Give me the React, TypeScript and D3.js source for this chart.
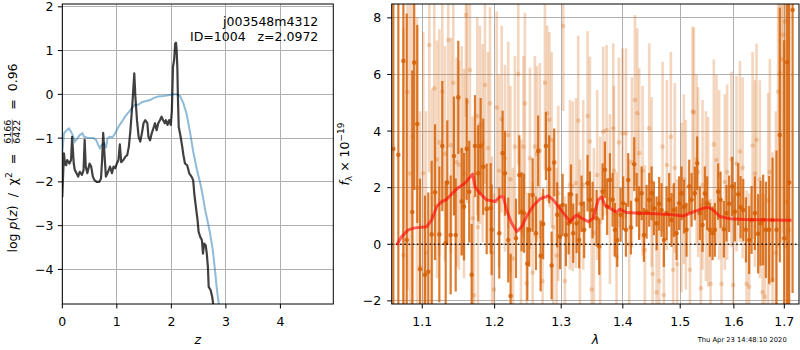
import React, { useLayoutEffect, useRef, useState } from 'react'
import * as d3 from 'd3'

// ---- left panel: log p(z) (black) and chi2 curve (blue) ----
const pzCurve: [number, number][] = [
  [0, -2.35], [0.01, -2.0], [0.03, -1.35], [0.05, -1.6], [0.07, -1.62], [0.09, -1.5], [0.13, -1.58], [0.16, -1.5],
  [0.18, -0.97], [0.21, -1.58], [0.23, -1.73], [0.26, -1.8], [0.29, -1.88], [0.32, -1.77], [0.36, -1.84], [0.39, -1.73],
  [0.41, -1.04], [0.43, -1.65], [0.46, -1.8], [0.5, -1.58], [0.53, -1.65], [0.56, -1.88], [0.59, -1.96], [0.63, -2.0],
  [0.68, -2.0], [0.71, -1.92], [0.73, -1.5], [0.75, -0.88], [0.78, -1.5], [0.8, -1.88], [0.83, -1.8], [0.875, -1.65],
  [0.91, -1.8], [0.94, -1.65], [0.97, -1.69], [1.0, -1.58], [1.03, -1.5], [1.055, -1.14], [1.08, -1.55], [1.12, -1.5],
  [1.16, -1.42], [1.19, -1.39], [1.22, -1.2], [1.25, -0.81], [1.29, -0.13], [1.32, 0.48], [1.34, -0.05], [1.37, -0.59],
  [1.4, -0.97], [1.43, -1.08], [1.46, -0.89], [1.49, -0.66], [1.52, -0.59], [1.56, -0.66], [1.58, -0.97], [1.61, -1.05],
  [1.64, -0.89], [1.68, -0.74], [1.7, -0.66], [1.73, -0.82], [1.76, -0.66], [1.79, -0.59], [1.82, -0.51], [1.85, -0.59],
  [1.88, -0.66], [1.9, -0.59], [1.93, -0.7], [1.96, -0.59], [1.99, -0.7], [2.01, -0.36], [2.03, 0.63], [2.05, 0.78],
  [2.07, 1.16], [2.085, 1.18], [2.095, 1.05], [2.11, 0.6], [2.12, -0.05], [2.135, -0.74], [2.17, -0.97], [2.2, -1.2],
  [2.22, -1.38], [2.25, -1.58], [2.29, -1.62], [2.33, -1.81], [2.37, -1.88], [2.4, -1.96], [2.42, -2.26], [2.45, -2.57],
  [2.48, -2.87], [2.5, -3.14], [2.53, -3.26], [2.56, -3.33], [2.58, -3.64], [2.6, -3.41], [2.63, -3.45], [2.65, -3.64],
  [2.67, -3.94], [2.685, -4.4], [2.72, -4.47], [2.75, -4.63], [2.77, -4.82], [2.8, -5.2],
]

const chiCurve: [number, number][] = [
  [0, -1.35], [0.03, -0.89], [0.08, -0.82], [0.12, -0.78], [0.16, -0.85], [0.19, -0.93], [0.23, -1.08], [0.28, -1.0],
  [0.32, -0.93], [0.37, -0.89], [0.4, -0.97], [0.46, -0.99], [0.52, -1.0], [0.57, -1.0], [0.62, -1.04], [0.66, -1.16],
  [0.69, -1.23], [0.72, -1.16], [0.77, -1.12], [0.8, -1.23], [0.83, -1.0], [0.875, -0.97], [0.92, -0.98], [0.97, -0.89],
  [1.03, -0.74], [1.09, -0.63], [1.15, -0.51], [1.21, -0.42], [1.27, -0.32], [1.33, -0.24], [1.39, -0.24], [1.46, -0.18],
  [1.54, -0.15], [1.61, -0.13], [1.68, -0.08], [1.76, -0.05], [1.85, -0.04], [1.95, -0.02], [2.04, 0], [2.1, 0],
  [2.16, -0.04], [2.22, -0.2], [2.28, -0.45], [2.34, -0.85], [2.4, -1.3], [2.47, -1.73], [2.53, -2.03], [2.58, -2.34],
  [2.62, -2.64], [2.66, -2.87], [2.71, -3.18], [2.76, -3.56], [2.8, -4.01], [2.83, -4.4], [2.86, -4.7], [2.89, -4.93],
  [2.92, -5.3],
]

const zTicks = [0, 1, 2, 3, 4]
const pzTicks = [-4, -3, -2, -1, 0, 1, 2]

// ---- right panel: spectrum [wavelength, flux, error] ----
const darkSpec: [number, number, number][] = [
  [1.0624, 3.37, 10], [1.0688, 3.16, 9], [1.0753, 6.48, 9], [1.0796, 0.15, 8], [1.0869, 1.14, 5], [1.0894, 6.42, 4.5],
  [1.0934, 4.25, 3.5], [1.097, -0.88, 3.2], [1.1036, -1.08, 2.8], [1.108, -0.97, 2.8], [1.1125, 0.35, 2.6], [1.117, 1.84, 2.4],
  [1.1228, 0.35, 2.4], [1.1268, 3.47, 2.3], [1.1314, 0.04, 2.2], [1.1336, 2.18, 2.2], [1.1382, 0.33, 2.1], [1.1427, 3.12, 2.1],
  [1.1451, 0.33, 2.0], [1.1487, 5.19, 2.0], [1.1534, 1.51, 1.9], [1.1566, 1.33, 1.9], [1.1603, 3.37, 1.8], [1.1639, 1.86, 1.8],
  [1.1673, -1.08, 1.8], [1.172, 3.47, 1.8], [1.1766, 2.51, 1.7], [1.18, 3.47, 1.7], [1.1837, 2.74, 1.7], [1.1886, 1.25, 1.6],
  [1.1943, 1.27, 1.6], [1.1957, 0.51, 1.6], [1.2067, 0.39, 1.6], [1.2116, 3.22, 1.5], [1.215, 2.51, 1.5], [1.2198, 0.15, 1.5],
  [1.2233, -1.83, 1.5], [1.2312, 0.21, 1.4], [1.2361, 2.45, 1.4], [1.2396, 1.15, 1.4], [1.2431, 1.1, 1.4], [1.2481, -0.69, 1.3],
  [1.251, 0.51, 1.3], [1.2561, 1.74, 1.3], [1.2611, 0.39, 1.3], [1.2645, 3.3, 1.25], [1.2682, -0.41, 1.25], [1.2721, 0.72, 1.25],
  [1.2763, 3.47, 1.2], [1.2813, 2.65, 1.2], [1.2851, -0.75, 1.2], [1.2891, 2.89, 1.2], [1.2938, 1.04, 1.15], [1.298, 0.27, 1.15],
  [1.3022, 1.39, 1.1], [1.3074, 0.33, 1.1], [1.3117, 0.74, 1.1], [1.3153, 1.77, 1.05], [1.3189, 0.39, 1.05], [1.3243, 0.74, 1.05],
  [1.3284, 0.15, 1.0], [1.3322, 1.43, 1.0], [1.3364, 0.51, 1.0], [1.3419, 2.16, 1.0], [1.3456, 1.57, 1.0], [1.35, 1.21, 1.0],
  [1.3565, 0.92, 1.0], [1.3608, -0.08, 1.0], [1.3663, 1.86, 1.0], [1.3701, 2.63, 1.0], [1.3739, 1.33, 1.0], [1.3784, 2.27, 0.95],
  [1.3829, 1.57, 0.95], [1.3867, 0.51, 0.95], [1.3906, 0.15, 0.95], [1.3962, 1.04, 0.95], [1.4006, 1.45, 0.95], [1.4052, 0.51, 0.95],
  [1.4091, 2.27, 0.95], [1.4137, 0.59, 0.95], [1.4193, 2.83, 0.95], [1.4235, 1.57, 0.95], [1.4278, 1.1, 0.95], [1.432, 1.8, 0.95],
  [1.4359, 0.33, 0.95], [1.4406, 1.15, 0.95], [1.4451, 1.57, 0.95], [1.4493, 1.8, 0.95], [1.4533, 1.27, 0.95], [1.458, 0.74, 0.95],
  [1.4625, 1.43, 0.95], [1.4667, 1.21, 0.95], [1.4708, 0.15, 0.95], [1.4756, 1.1, 0.95], [1.4802, 1.57, 0.95], [1.4844, 0.86, 0.95],
  [1.4886, 1.21, 0.95], [1.4934, 0.39, 0.95], [1.498, 1.45, 0.95], [1.5024, 1.8, 0.95], [1.5071, 1.33, 0.95], [1.5115, 0.51, 0.95],
  [1.5163, 2.04, 0.95], [1.5207, 1.57, 0.95], [1.5267, 1.8, 0.95], [1.5309, 2.86, 0.95], [1.5358, 1.1, 0.95], [1.5408, 0.68, 0.95],
  [1.5451, 1.8, 0.95], [1.5494, 1.45, 0.95], [1.5544, 0.51, 0.95], [1.5595, 0.39, 0.95], [1.5638, 0.51, 0.95], [1.57, 1.86, 1.0],
  [1.5745, 1.57, 1.0], [1.5808, 0.53, 1.0], [1.5859, 1.1, 1.0], [1.5909, 1.43, 1.0], [1.5967, 2.04, 1.05], [1.6019, 1.15, 1.05],
  [1.6083, 1.77, 1.1], [1.613, 1.31, 1.1], [1.6181, 1.21, 1.1], [1.6233, 0.51, 1.15], [1.6297, 0.15, 1.2], [1.6344, 0.86, 1.2],
  [1.6409, 1.1, 1.3], [1.6474, 0.37, 1.4], [1.6521, 0.74, 1.5], [1.6573, 0.86, 1.6], [1.6627, 0.51, 1.7], [1.6693, 0.51, 1.9],
  [1.6761, 0.86, 2.2], [1.6841, 0.51, 2.8], [1.6908, 3.86, 4.5], [1.6997, 0.21, 7], [1.7059, 6.43, 9], [1.71, 2.18, 9],
  [1.717, 8.28, 10],
]

const lightSpec: [number, number, number][] = [
  [1.0753, -0.38, 8], [1.0805, 5.39, 7], [1.0839, 2.5, 7], [1.0874, 3.8, 6], [1.093, 2.0, 6], [1.097, -0.8, 5.5],
  [1.1013, 2.51, 5], [1.1049, -0.3, 5], [1.1093, 7.04, 4.5], [1.1129, 1.0, 4.5], [1.116, 5.51, 4.2], [1.1196, 3.0, 4.2],
  [1.1228, 3.6, 4], [1.1268, 5.4, 4], [1.1305, 3.2, 3.8], [1.135, 7.22, 3.8], [1.1387, 3.5, 3.8], [1.1418, 5.71, 3.8],
  [1.1464, 2.9, 3.7], [1.1496, 2.8, 3.7], [1.1534, 3.3, 3.7], [1.1566, 2.5, 3.7], [1.1593, 8.1, 3.6], [1.1611, 5.04, 3.6],
  [1.1649, 6.16, 3.6], [1.1687, 0.92, 3.6], [1.1705, -1.8, 3.5], [1.1752, 4.53, 3.5], [1.1762, 0.6, 3.5], [1.179, 4.22, 3.5],
  [1.1828, 3.57, 3.5], [1.1861, 5.63, 3.5], [1.1904, 3.4, 3.4], [1.1933, 4.98, 3.4], [1.1962, -0.3, 3.4], [1.1991, -1.6, 3.4],
  [1.203, 4.83, 3.4], [1.2063, 2.6, 3.4], [1.2102, 4.42, 3.3], [1.215, 3.04, 3.3], [1.2198, 3.86, 3.3], [1.223, 2.3, 3.3],
  [1.2267, -0.5, 3.2], [1.2296, 3.45, 3.2], [1.2346, 6.02, 3.2], [1.2386, 0.5, 3.2], [1.2423, 3.45, 3.2], [1.2445, 4.98, 3.2],
  [1.2471, -1.38, 3.2], [1.252, 3.04, 3.2], [1.2561, -1.0, 3.2], [1.2595, 3.45, 3.2], [1.2626, 3.2, 3.1], [1.2671, 3.3, 3.1],
  [1.2712, -1.3, 3.1], [1.2748, 5.71, 3.1], [1.2783, 4.63, 3.1], [1.2817, 4.4, 3.1], [1.2851, 3.7, 3.1], [1.2876, 0.6, 3.1],
  [1.2928, -0.4, 3.1], [1.2954, 1.8, 3.1], [1.3032, 7.71, 3.0], [1.3058, -1.3, 3.0], [1.3137, 2.1, 3.0], [1.318, 2.05, 3.0],
  [1.3232, 2.16, 3.0], [1.3269, 4.37, 3.0], [1.3295, 0.0, 3.0], [1.3348, 2.1, 3.0], [1.3419, 4.53, 3.0], [1.3456, 3.63, 3.0],
  [1.3484, -1.6, 3.0], [1.3521, 0.4, 3.0], [1.3575, 2.45, 3.0], [1.3624, 0.8, 3.0], [1.3674, 3.98, 3.0], [1.3729, 4.04, 3.0],
  [1.3784, 1.6, 3.0], [1.3839, 4.1, 3.0], [1.3851, 2.6, 3.0], [1.3895, -0.45, 3.0], [1.3934, 3.6, 3.0], [1.3996, 3.92, 3.0],
  [1.4052, 3.92, 3.0], [1.4108, 0.0, 3.0], [1.4154, 2.9, 3.0], [1.4205, 5.1, 3.0], [1.4245, 4.63, 3.0], [1.4278, 3.22, 3.0],
  [1.4336, 2.6, 3.0], [1.4376, -0.2, 3.0], [1.4451, 4.1, 3.0], [1.4493, 2.2, 3.0], [1.451, -1.05, 3.0], [1.458, -1.7, 3.0],
  [1.4625, -1.3, 3.0], [1.4685, 3.45, 3.0], [1.4708, -1.79, 3.0], [1.4761, 2.8, 3.0], [1.4832, 3.8, 3.0], [1.4873, -0.9, 3.0],
  [1.4903, 2.7, 3.0], [1.4944, -0.7, 3.0], [1.5024, 1.3, 3.0], [1.5065, 2.3, 3.0], [1.5102, 1.4, 3.0], [1.5176, -0.9, 3.0],
  [1.5225, 4.69, 3.0], [1.5249, 4.66, 3.0], [1.5298, 3.0, 3.0], [1.5327, 2.55, 3.0], [1.5377, -1.55, 3.0], [1.5408, 2.1, 3.0],
  [1.547, 1.7, 3.0], [1.5512, 1.5, 3.0], [1.5557, -1.4, 3.0], [1.5619, 3.53, 3.0], [1.5669, 2.98, 3.0], [1.5719, 2.45, 3.0],
  [1.5764, -1.4, 3.0], [1.5827, 2.2, 3.1], [1.5871, 2.55, 3.1], [1.5954, 3.0, 3.1], [1.5986, -1.44, 3.1], [1.6051, 2.85, 3.1],
  [1.6116, 3.28, 3.2], [1.6169, 2.7, 3.2], [1.6246, -1.4, 3.3], [1.6297, -1.5, 3.3], [1.6364, 3.49, 3.3], [1.6409, 2.5, 3.3],
  [1.6442, 3.69, 3.4], [1.6507, 2.3, 3.5], [1.6561, -1.7, 3.5], [1.6607, -1.85, 3.6], [1.6673, 1.55, 3.8], [1.6707, 2.55, 4],
  [1.6761, -1.25, 4.5], [1.6827, -0.3, 5], [1.6874, 5.39, 5.5], [1.6908, 6.04, 6], [1.6942, 6.54, 6.5], [1.6975, 7.4, 7],
  [1.7009, 7.87, 8], [1.7044, 1.5, 8], [1.7091, 0.5, 8],
]

const modelCurve: [number, number][] = [
  [1.0667, -0.02], [1.0731, 0.27], [1.0816, 0.51], [1.0904, 0.58], [1.1058, 0.62], [1.1125, 0.86], [1.1192, 1.33],
  [1.126, 1.51], [1.1327, 1.59], [1.1396, 1.78], [1.1464, 1.95], [1.1579, 2.16], [1.1687, 2.48], [1.1719, 2.04],
  [1.179, 1.8], [1.1885, 1.57], [1.2004, 1.51], [1.2077, 1.68], [1.2125, 1.68], [1.2174, 1.21], [1.2248, 0.74],
  [1.2322, 0.45], [1.2396, 0.62], [1.2471, 0.98], [1.257, 1.36], [1.2671, 1.6], [1.2799, 1.71], [1.2876, 1.57],
  [1.298, 1.27], [1.3058, 1.04], [1.3137, 0.8], [1.3243, 1.04], [1.3323, 0.92], [1.3429, 0.8], [1.351, 0.92],
  [1.3591, 1.57], [1.3647, 1.68], [1.3701, 1.39], [1.3812, 1.24], [1.3895, 1.13], [1.395, 1.24], [1.4063, 1.12],
  [1.429, 1.1], [1.458, 1.08], [1.4873, 1.04], [1.5053, 1.0], [1.5235, 1.14], [1.5419, 1.27], [1.5512, 1.31],
  [1.5606, 1.21], [1.5732, 0.98], [1.5922, 0.9], [1.6311, 0.87], [1.6773, 0.86], [1.7148, 0.85],
]

const waveTicks = [1.1, 1.2, 1.3, 1.4, 1.5, 1.6, 1.7]
const fluxTicks = [-2, 0, 2, 4, 6, 8]

const G141 = '#d55e00'
const GRID = '#b0b0b0'
const FONT = 'DejaVu Sans, sans-serif'
const NB = '\u00a0'
const minus = (v: number) => (v < 0 ? '\u2212' + Math.abs(v) : String(v))

// panel boxes (pixels)
const L = { x0: 62.3, x1: 333.3, y0: 4, y1: 304 }
const R = { x0: 391.7, x1: 799, y0: 4, y1: 304 }

function PzLabel({ cx, cy }: { cx: number; cy: number }) {
  const aRef = useRef<SVGTextElement>(null)
  const fRef = useRef<SVGTextElement>(null)
  const bRef = useRef<SVGTextElement>(null)
  const [w, setW] = useState<[number, number, number]>([110, 25, 50])
  useLayoutEffect(() => {
    setW([
      aRef.current ? aRef.current.getComputedTextLength() : 110,
      fRef.current ? fRef.current.getComputedTextLength() : 25,
      bRef.current ? bRef.current.getComputedTextLength() : 50,
    ])
  }, [])
  const x0 = -(w[0] + w[1] + w[2] + 4) / 2
  const xf = x0 + w[0] + 2
  return (
    <g transform={`translate(${cx},${cy}) rotate(-90)`} fontSize={12.5}>
      <text ref={aRef} x={x0} y={0}>
        {'log' + NB}<tspan fontStyle="italic">p</tspan>(<tspan fontStyle="italic">z</tspan>){NB + NB + '/' + NB + NB + 'χ'}
        <tspan fontSize={9} dy={-5}>2</tspan>
        <tspan dy={5}>{NB + NB + '=' + NB + NB}</tspan>
      </text>
      <text ref={fRef} x={xf} y={-5.5} fontSize={9.5}>6166</text>
      <line x1={xf} x2={xf + w[1]} y1={-4.2} y2={-4.2} stroke="black" strokeWidth={0.6} />
      <text x={xf} y={3.6} fontSize={9.5}>6422</text>
      <text ref={bRef} x={xf + w[1] + 2} y={0}>{NB + NB + '=' + NB + NB + '0.96'}</text>
    </g>
  )
}

export default function App() {
  // left panel scales
  const zx = d3.scaleLinear().domain([0, 4.97]).range([L.x0, L.x1])
  const py = d3.scaleLinear().domain([-4.79, 2.064]).range([L.y1, L.y0])
  // right panel scales (log wavelength axis)
  const wx = d3.scaleLog().domain([1.0603, 1.7303]).range([R.x0, R.x1])
  const fy = d3.scaleLinear().domain([-2.11, 8.49]).range([R.y1, R.y0])

  const pzLine = d3.line<[number, number]>().x(d => zx(d[0])).y(d => py(d[1]))
  const modelLine = d3.line<[number, number]>().x(d => wx(d[0])).y(d => fy(d[1]))

  const tick = 4.5
  const pad = 4.4

  const errBars = (data: [number, number, number][], opacity: number, width: number, key: string) => (
    <g key={key}>
      {data.map((d, i) => (
        <g key={i}>
          <line x1={wx(d[0])} x2={wx(d[0])} y1={fy(d[1] - d[2])} y2={fy(d[1] + d[2])}
            stroke={G141} strokeWidth={width} opacity={opacity} />
          <circle cx={wx(d[0])} cy={fy(d[1])} r={2.3} fill={G141} opacity={opacity} />
        </g>
      ))}
    </g>
  )

  return (
    <svg width={800} height={350} style={{ position: 'absolute', left: 0, top: 0, background: 'white' }}
      fontFamily={FONT}>
      <defs>
        <clipPath id="clipL"><rect x={L.x0} y={L.y0} width={L.x1 - L.x0} height={L.y1 - L.y0} /></clipPath>
        <clipPath id="clipR"><rect x={R.x0} y={R.y0} width={R.x1 - R.x0} height={R.y1 - R.y0} /></clipPath>
      </defs>

      {/* ---------- left panel ---------- */}
      <g shapeRendering="crispEdges">
        {zTicks.map(t => (
          <line key={'gz' + t} x1={zx(t)} x2={zx(t)} y1={L.y0} y2={L.y1} stroke={GRID} strokeWidth={1} />
        ))}
        {pzTicks.map(t => (
          <line key={'gp' + t} x1={L.x0} x2={L.x1} y1={py(t)} y2={py(t)} stroke={GRID} strokeWidth={1} />
        ))}
      </g>
      <g clipPath="url(#clipL)">
        <path d={pzLine(chiCurve) || ''} fill="none" stroke="#1f77b4" strokeOpacity={0.5} strokeWidth={2} />
        <path d={pzLine(pzCurve) || ''} fill="none" stroke="#000" strokeOpacity={0.75} strokeWidth={2.2}
          strokeLinejoin="round" />
      </g>
      <rect x={L.x0} y={L.y0} width={L.x1 - L.x0} height={L.y1 - L.y0} fill="none" stroke="#000" strokeWidth={1} />
      {zTicks.map(t => (
        <g key={'tz' + t}>
          <line x1={zx(t)} x2={zx(t)} y1={L.y1} y2={L.y1 + tick} stroke="#000" />
          <text x={zx(t)} y={325.5} textAnchor="middle" fontSize={12.5}>{t}</text>
        </g>
      ))}
      {pzTicks.map(t => (
        <g key={'tp' + t}>
          <line x1={L.x0 - tick} x2={L.x0} y1={py(t)} y2={py(t)} stroke="#000" />
          <text x={L.x0 - tick - pad} y={py(t)} dy="0.36em" textAnchor="end" fontSize={12.5}>{minus(t)}</text>
        </g>
      ))}
      <text x={318.3} y={25.7} textAnchor="end" fontSize={12.5}>j003548m4312</text>
      <text x={318.3} y={40.7} textAnchor="end" fontSize={12.5}>{'ID=1004' + NB + NB + NB + 'z=2.0972'}</text>
      <text x={(L.x0 + L.x1) / 2} y={344} textAnchor="middle" fontSize={12.5} fontStyle="italic">z</text>
      <PzLabel cx={16.5} cy={158} />

      {/* ---------- right panel ---------- */}
      <g shapeRendering="crispEdges">
        {waveTicks.map(t => (
          <line key={'gw' + t} x1={wx(t)} x2={wx(t)} y1={R.y0} y2={R.y1} stroke={GRID} strokeWidth={1} />
        ))}
        {fluxTicks.map(t => (
          <line key={'gf' + t} x1={R.x0} x2={R.x1} y1={fy(t)} y2={fy(t)} stroke={GRID} strokeWidth={1} />
        ))}
      </g>
      <g clipPath="url(#clipR)">
        {errBars(lightSpec, 0.25, 2.6, 'light')}
        {errBars(darkSpec, 0.82, 2.2, 'dark')}
        <line x1={R.x0} x2={R.x1} y1={fy(0)} y2={fy(0)} stroke="#000" strokeWidth={1.6}
          strokeDasharray="1.6 2.6" opacity={0.85} />
        <path d={modelLine(modelCurve) || ''} fill="none" stroke="#ff0000" strokeOpacity={0.6} strokeWidth={3}
          strokeLinejoin="round" />
      </g>
      <rect x={R.x0} y={R.y0} width={R.x1 - R.x0} height={R.y1 - R.y0} fill="none" stroke="#000" strokeWidth={1} />
      {waveTicks.map(t => (
        <g key={'tw' + t}>
          <line x1={wx(t)} x2={wx(t)} y1={R.y1} y2={R.y1 + tick} stroke="#000" />
          <text x={wx(t)} y={325.5} textAnchor="middle" fontSize={12.5}>{t.toFixed(1)}</text>
        </g>
      ))}
      {fluxTicks.map(t => (
        <g key={'tf' + t}>
          <line x1={R.x0 - tick} x2={R.x0} y1={fy(t)} y2={fy(t)} stroke="#000" />
          <text x={R.x0 - tick - pad - 1.5} y={fy(t)} dy="0.36em" textAnchor="end" fontSize={12.5}>{minus(t)}</text>
        </g>
      ))}
      <text x={(R.x0 + R.x1) / 2} y={344} textAnchor="middle" fontSize={12.5} fontStyle="italic">λ</text>
      <text transform={`translate(348.5,${(R.y0 + R.y1) / 2}) rotate(-90)`} textAnchor="middle" fontSize={12.5}>
        <tspan fontStyle="italic">f</tspan>
        <tspan fontSize={9} dy={3}>λ</tspan>
        <tspan dy={-3}>{NB + '\u00d7' + NB + '10'}</tspan>
        <tspan fontSize={9} dy={-5}>{'\u221219'}</tspan>
      </text>
      <text x={786.7} y={342} textAnchor="end" fontSize={6.75}>Thu Apr 23 14:48:10 2020</text>
    </svg>
  )
}
